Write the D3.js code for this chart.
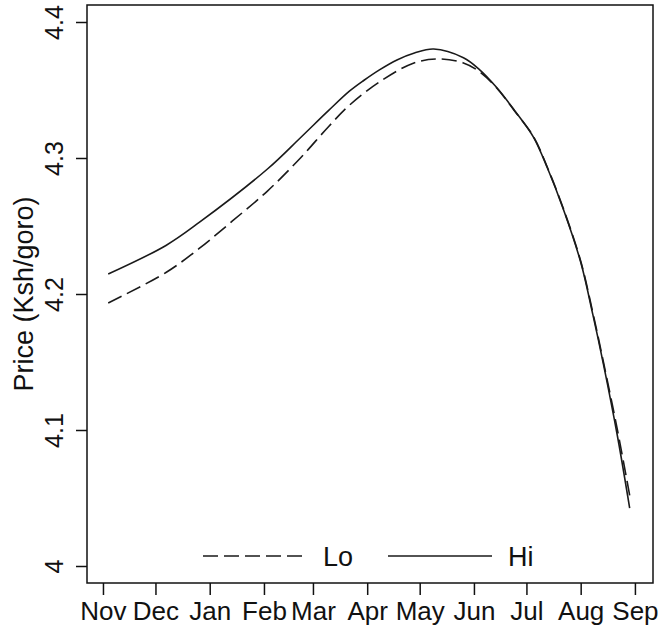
<html lang="en">
  <head>
    <title>Price by month, Lo and Hi</title>
    <script src="https://d3js.org/d3.v7.min.js"></script>
    <style>
      body { margin: 0; background: #fff; }
      text { font-family: 'Liberation Sans', Arial, sans-serif; fill: #111; }
    </style>
  </head>
  <body>
    <div id="container"></div>
    <script>
      // values
      const hiDates = ['2010-11-04', '2010-12-07', '2010-12-26', '2011-02-03', '2011-02-22', '2011-03-10',
        '2011-03-22', '2011-03-30', '2011-04-08', '2011-04-18', '2011-04-28', '2011-05-09', '2011-05-26',
        '2011-06-04', '2011-06-14', '2011-06-24', '2011-07-05', '2011-07-13', '2011-07-22', '2011-08-01',
        '2011-08-08', '2011-08-14', '2011-08-22', '2011-08-29']
      const hiPrice = [4.2147, 4.2357, 4.2526, 4.2919, 4.3151, 4.3350,
        4.3493, 4.3570, 4.3648, 4.3721, 4.3772, 4.3801, 4.3737,
        4.3652, 4.3518, 4.3353, 4.3154, 4.2926, 4.2627, 4.2235,
        4.1846, 4.1485, 4.0956, 4.0426]
      const loDates = ['2010-11-04', '2010-12-07', '2010-12-26', '2011-01-14', '2011-02-03', '2011-02-22',
        '2011-03-10', '2011-03-22', '2011-04-08', '2011-04-27', '2011-05-11', '2011-05-26', '2011-06-04',
        '2011-06-14', '2011-06-24', '2011-07-05', '2011-07-13', '2011-07-22', '2011-08-01', '2011-08-08',
        '2011-08-14', '2011-08-22', '2011-08-29']
      const loPrice = [4.1934, 4.2158, 4.2335, 4.2537, 4.2757, 4.3002,
        4.3232, 4.3390, 4.3559, 4.3695, 4.3728, 4.3699, 4.3636,
        4.3515, 4.3350, 4.3158, 4.2930, 4.2632, 4.2242, 4.1860,
        4.1500, 4.1000, 4.0520]
      const monthTicks = ['2010-11-01', '2010-12-01', '2011-01-01', '2011-02-01', '2011-03-01', '2011-04-01',
        '2011-05-01', '2011-06-01', '2011-07-01', '2011-08-01', '2011-09-01']
      const monthLabels = ['Nov', 'Dec', 'Jan', 'Feb', 'Mar', 'Apr', 'May', 'Jun', 'Jul', 'Aug', 'Sep']
      const priceTicks = [4, 4.1, 4.2, 4.3, 4.4]
      const priceLabels = ['4', '4.1', '4.2', '4.3', '4.4']
      const seriesNames = ['Lo', 'Hi']

      const parse = d3.timeParse('%Y-%m-%d')
      const width = 660, height = 627
      const plotL = 87, plotR = 653, plotT = 5, plotB = 583

      let svg = d3.select('#container').append('svg')
        .attr('width', width)
        .attr('height', height)

      let x = d3.scaleTime()
        .domain([new Date(2010, 9, 22, 21), new Date(2011, 8, 11, 8)])
        .range([plotL, plotR])
      let y = d3.scaleLinear()
        .domain([3.9875, 4.4125])
        .range([plotB, plotT])

      let series = [
        { name: seriesNames[0], dash: '15,6', pts: loDates.map((d, i) => ({ date: parse(d), v: loPrice[i] })) },
        { name: seriesNames[1], dash: null, pts: hiDates.map((d, i) => ({ date: parse(d), v: hiPrice[i] })) }
      ]

      let line = d3.line()
        .x(d => x(d.date))
        .y(d => y(d.v))
        .curve(d3.curveCatmullRom.alpha(0.5))

      // curves
      svg.selectAll('path.series')
        .data(series).enter()
        .append('path')
        .attr('class', 'series')
        .attr('fill', 'none')
        .attr('stroke', '#1a1a1a')
        .attr('stroke-width', 1.6)
        .attr('stroke-dasharray', d => d.dash)
        .attr('d', d => line(d.pts))

      // x axis
      let xAxis = d3.axisBottom(x)
        .tickValues(monthTicks.map(parse))
        .tickFormat((d, i) => monthLabels[i])
        .tickSize(12)
        .tickPadding(7)
      let gx = svg.append('g')
        .attr('transform', `translate(0,${plotB})`)
        .call(xAxis)
      gx.select('.domain').remove()
      gx.selectAll('line').attr('stroke', '#111').attr('stroke-width', 1.5)
      gx.selectAll('text')
        .attr('font-size', 26)
        .attr('font-family', 'Liberation Sans, Arial, sans-serif')
        .attr('fill', '#111')

      // y axis with rotated labels
      let yAxis = d3.axisLeft(y)
        .tickValues(priceTicks)
        .tickFormat((d, i) => priceLabels[i])
        .tickSize(11)
      let gy = svg.append('g')
        .attr('transform', `translate(${plotL},0)`)
        .call(yAxis)
      gy.select('.domain').remove()
      gy.selectAll('line').attr('stroke', '#111').attr('stroke-width', 1.5)
      gy.selectAll('text')
        .attr('x', null).attr('dy', null)
        .attr('transform', 'translate(-24,0) rotate(-90)')
        .attr('text-anchor', 'middle')
        .attr('font-size', 25)
        .attr('font-family', 'Liberation Sans, Arial, sans-serif')
        .attr('fill', '#111')

      // box round the plot
      svg.append('rect')
        .attr('x', plotL)
        .attr('y', plotT)
        .attr('width', plotR - plotL)
        .attr('height', plotB - plotT)
        .attr('fill', 'none')
        .attr('stroke', '#111')
        .attr('stroke-width', 1.5)

      // y title
      svg.append('text')
        .attr('transform', `translate(33,${(plotT + plotB) / 2}) rotate(-90)`)
        .attr('text-anchor', 'middle')
        .attr('font-size', 27)
        .text('Price (Ksh/goro)')

      // legend
      let legend = svg.append('g').attr('transform', 'translate(0,556)')
      let items = legend.selectAll('g')
        .data(series).enter()
        .append('g')
        .attr('transform', (d, i) => `translate(${203 + i * 185},0)`)
      items.append('line')
        .attr('x1', 0).attr('x2', 104)
        .attr('stroke', '#1a1a1a')
        .attr('stroke-width', 1.6)
        .attr('stroke-dasharray', d => d.dash)
      items.append('text')
        .attr('x', 120)
        .attr('y', 10)
        .attr('font-size', 27)
        .text(d => d.name)
    </script>
  </body>
</html>
